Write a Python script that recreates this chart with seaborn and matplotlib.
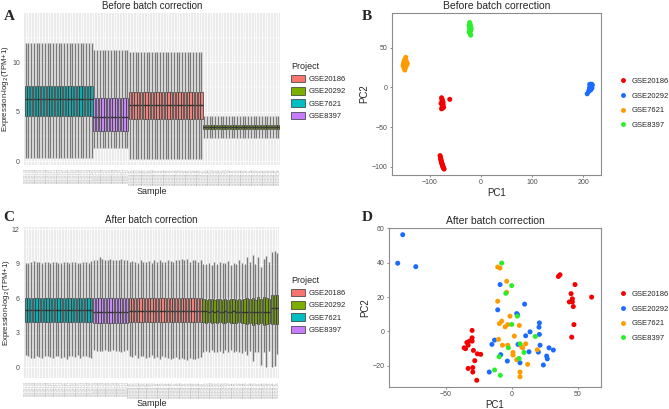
import numpy as np
import pandas as pd
import seaborn as sns
import matplotlib.pyplot as plt
from matplotlib.patches import Patch
from matplotlib.lines import Line2D

# ------------- Datos -------------
projects = ["GSE20186", "GSE20292", "GSE7621", "GSE8397"]
box_order = ["GSE7621", "GSE8397", "GSE20186", "GSE20292"]
n_samples = {"GSE7621": 25, "GSE8397": 13, "GSE20186": 27, "GSE20292": 28}

box_colors = {"GSE20186": "#F8766D", "GSE20292": "#7CAE00",
              "GSE7621": "#00BFC4", "GSE8397": "#C77CFF"}
pca_colors = {"GSE20186": "#F40000", "GSE20292": "#1A6BFF",
              "GSE7621": "#FF9B00", "GSE8397": "#2BEE2B"}

# A: lo, q1, mediana, q3, hi por proyecto
before_stats = {
    "GSE7621": [0.35, 4.6, 6.3, 7.6, 12.0],
    "GSE8397": [1.35, 3.0, 4.5, 6.35, 11.3],
    "GSE20186": [0.25, 4.25, 5.65, 7.0, 11.0],
    "GSE20292": [2.35, 3.2, 3.5, 3.7, 4.6],
}

# C: bigotes por muestra
after_hi = {
    "GSE7621": [9.05, 9.1, 9.2, 9.25, 9.2, 9.15, 9.1, 9.2, 9.15, 9.1, 9.2, 9.15, 9.1,
                9.05, 9.15, 9.2, 9.1, 9.15, 9.2, 9.1, 9.05, 9.15, 9.2, 9.1, 9.25],
    "GSE8397": [9.3, 9.35, 9.6, 9.45, 9.3, 9.35, 9.4, 9.3, 9.35, 9.3, 9.4, 9.3, 9.3],
    "GSE20186": [9.2, 9.25, 9.2, 9.1, 9.3, 9.15, 9.2, 9.25, 9.1, 9.3, 9.2, 9.35, 9.15, 9.2,
                 9.3, 9.25, 9.2, 9.35, 9.3, 9.4, 9.35, 9.4, 9.2, 9.3, 9.35, 9.2, 9.3],
    "GSE20292": [8.95, 9.0, 9.1, 8.9, 9.15, 9.0, 9.2, 9.1, 9.05, 9.25, 8.9, 9.1, 9.0, 9.35,
                 9.1, 8.95, 9.55, 9.15, 9.8, 9.0, 9.6, 8.7, 9.4, 9.7, 9.2, 10.0, 10.1, 9.9],
}
after_lo = {
    "GSE7621": [1.1, 1.0, 0.85, 0.8, 0.95, 0.9, 0.85, 0.95, 1.0, 0.9, 0.85, 1.0, 0.95,
                0.8, 0.9, 0.75, 0.95, 1.0, 0.9, 1.05, 0.85, 0.95, 1.0, 0.9, 0.85],
    "GSE8397": [1.5, 1.45, 1.4, 1.45, 1.5, 1.4, 1.45, 1.5, 1.4, 1.45, 1.35, 1.4, 1.5],
    "GSE20186": [1.0, 0.9, 1.1, 0.85, 0.95, 1.0, 0.8, 0.9, 1.05, 0.85, 0.9, 0.75, 1.0, 0.9,
                 0.85, 0.7, 0.8, 0.9, 0.75, 0.85, 0.7, 0.65, 0.8, 0.75, 0.7, 0.85, 0.9],
    "GSE20292": [1.3, 1.45, 1.3, 1.5, 1.35, 1.3, 1.45, 1.25, 1.5, 1.35, 1.55, 1.3, 1.45, 1.3,
                 1.25, 1.45, 1.1, 1.4, 0.55, 1.35, 1.3, 0.2, 1.35, 0.05, 1.45, 0.0, 0.1, 1.2],
}
after_box = {  # q1, mediana, q3 para los tres primeros proyectos
    "GSE7621": [3.95, 5.0, 6.0],
    "GSE8397": [3.85, 4.85, 6.0],
    "GSE20186": [3.95, 4.9, 6.0],
}
green_q1 = [3.95, 3.9, 3.95, 3.9, 3.95, 3.9, 3.95, 3.9, 3.9, 3.95, 3.9, 3.85, 3.9, 3.95,
            3.85, 3.9, 3.75, 3.85, 3.7, 3.85, 3.75, 3.9, 3.7, 3.8, 3.85, 3.8, 3.75, 3.8]
green_med = [4.9, 4.9, 4.85, 4.9, 4.85, 4.9, 4.85, 4.85, 4.9, 4.85, 4.85, 4.9, 4.85, 4.85,
             4.8, 4.85, 4.8, 4.85, 4.8, 4.8, 4.85, 4.8, 4.8, 4.85, 4.8, 5.2, 5.2, 5.2]
green_q3 = [5.95, 5.9, 5.95, 5.95, 5.9, 5.95, 5.95, 5.9, 5.95, 5.9, 5.95, 5.95, 5.9, 5.95,
            5.9, 5.95, 6.0, 5.95, 6.05, 5.9, 6.1, 5.95, 6.1, 6.0, 5.95, 6.3, 6.3, 6.25]

# B: PCA antes
pcaB = {
    "GSE20186": ([-77, -76, -75, -78, -74, -76, -73, -75, -77, -74, -76, -61,
                  -80, -79, -79, -78, -78, -77, -77, -76, -76, -75, -75, -74, -74, -73, -72],
                 [-13, -16, -18, -20, -22, -24, -25, -26, -27, -19, -15, -15,
                  -86, -88, -90, -91, -93, -94, -95, -96, -97, -98, -99, -100, -101, -102, -103]),
    "GSE20292": ([213, 214, 215, 216, 217, 218, 214, 215, 216, 217, 213, 214, 215, 216,
                  212, 213, 214, 215, 216, 217, 211, 212, 213, 214, 215, 216, 217, 208],
                 [4, 3, 2, 1, 0, 3, -1, -2, 2, 4, 0, 1, -3, 0,
                  -4, -2, 3, 2, 1, -1, -5, -3, -1, 0, 4, 2, 3, -8]),
    "GSE7621": ([-152, -151, -150, -149, -148, -147, -146, -145, -150, -149, -148, -147, -151,
                 -150, -149, -148, -146, -144, -150, -152, -148, -147, -149, -151, -146],
                [28, 30, 32, 26, 29, 31, 33, 30, 24, 27, 35, 38, 31,
                 29, 22, 25, 28, 30, 34, 27, 36, 26, 33, 30, 29]),
    "GSE8397": ([-22, -21, -23, -20, -22, -21, -19, -22, -20, -23, -21, -20, -22],
                [82, 80, 78, 77, 76, 75, 74, 73, 72, 70, 68, 66, 79]),
}

# D: PCA despues
pcaD = {
    "GSE20186": ([-30, -34, -36, -35, -32, -30, -30, -33, -29, -26, -23.5, -28, -33, -29.5,
                  -29.5, -26.5, 35.4, 36.6, 48, 45, 46, 43.7, 46, 46.7, 47.2, 45.5, 60.6],
                 [0.6, -6.4, -9.5, -10, -5.6, -3.7, -5.6, -8, -11, -13, -13.3, -17, -21.5, -21,
                  -23.6, -28.4, 32, 33, 27.3, 22, 19, 17.2, 17.2, 14.5, 4, -3.3, 20]),
    "GSE20292": ([-82.6, -86.4, -72.7, -8.8, 9.8, -10.6, 3.8, 4.5, 21, 20.7, 13.9, 10.6, 21, -13,
                  -15, 4.8, 21.5, 28.3, 31.6, 13.1, 20.2, 26.5, 27, -8.3, -3.3, 6.3, 24, -17],
                 [56.3, 39.7, 37.7, 27.3, 15.9, 12.6, 10.4, 9.7, 5, 2.5, -0.2, -2.5, -1.7, -5,
                  -7.5, -7.5, -8, -9.5, -10.8, -11.8, -12, -14.3, -15.9, -13.5, -17.2, -18.2, -19.5, -23.6]),
    "GSE7621": ([-10.6, -8.8, -3.8, -3.8, -10.6, -1.3, -7.6, -9.3, -5, -3, 5.8, -10, -7, -3,
                 2, 10.6, 7.6, 1, 1, 3.8, 19.4, 12.1, 6.3, 6.3, 8.3],
                [37.5, 36.9, 29.2, 22.8, 17.6, 8.9, 6, 4.6, 2.7, 4, 3.5, -4.6, -8, -8,
                 -2.7, -7.2, -9, -12.2, -13.7, -16.4, -10.6, -19.1, -23.6, -26.3, -9.5]),
    "GSE8397": ([-7.6, 0, -4.5, 4.3, 0, -2.5, 6.3, 9.3, 17.9, -9.6, 5.6, -13, -8.6],
                [39.8, 26.7, 22.2, 8.9, 4.1, -9.5, -7.2, -12.2, -2.9, -14.7, -15.7, -22.4, -25.5]),
}

# ------------- Tablas largas -------------
rows_a, rows_c, sample_names = [], [], []
for p in box_order:
    for i in range(n_samples[p]):
        name = f"{p}_{i + 1:02d}"
        sample_names.append(name)
        for v in before_stats[p]:
            rows_a.append((name, p, v))
        if p == "GSE20292":
            vals = [after_lo[p][i], green_q1[i], green_med[i], green_q3[i], after_hi[p][i]]
        else:
            vals = [after_lo[p][i]] + after_box[p] + [after_hi[p][i]]
        for v in vals:
            rows_c.append((name, p, v))
df_a = pd.DataFrame(rows_a, columns=["Sample", "Project", "Expr"])
df_c = pd.DataFrame(rows_c, columns=["Sample", "Project", "Expr"])


def pca_frame(d):
    rows = []
    for p in projects:
        for x, y in zip(*d[p]):
            rows.append((p, x, y))
    return pd.DataFrame(rows, columns=["Project", "PC1", "PC2"])


df_b = pca_frame(pcaB)
df_d = pca_frame(pcaD)

# ------------- Figura -------------
sns.set_style("white")
plt.rcParams["font.family"] = ["Liberation Sans", "DejaVu Sans"]
W, H = 669, 409
fig = plt.figure(figsize=(W / 100, H / 100), dpi=100)


def px_axes(l, t, r, b):
    return fig.add_axes([l / W, 1 - b / H, (r - l) / W, (b - t) / H])


def draw_box(ax, df, title, yticks, yminor, ylim, xlab_y, ylab_x):
    ax.set_facecolor("#EBEBEB")
    sns.boxplot(data=df, x="Sample", y="Expr", hue="Project", order=sample_names,
                hue_order=projects, palette=box_colors, whis=(0, 100), width=0.8,
                linewidth=0.5, linecolor="#333333", showcaps=False, dodge=False,
                whiskerprops={"color": "#7A7A7A", "linewidth": 1.0},
                medianprops={"color": "#333333", "linewidth": 1.0},
                legend=False, ax=ax)
    ax.set_axisbelow(True)
    ax.set_yticks(yticks)
    ax.set_yticks(yminor, minor=True)
    ax.grid(True, which="major", color="white", linewidth=0.6)
    ax.grid(True, which="minor", axis="y", color="white", linewidth=0.3)
    ax.set_ylim(*ylim)
    ax.set_xlim(-0.6, len(sample_names) - 0.4)
    for s in ax.spines.values():
        s.set_visible(False)
    ax.tick_params(axis="x", labelrotation=90, labelsize=1.8, labelcolor="#9A9A9A",
                   length=1.5, width=0.4, color="#333333", pad=1)
    ax.tick_params(axis="y", labelsize=5, labelcolor="#4D4D4D", length=1.5,
                   width=0.4, color="#333333", pad=1.5)
    ax.tick_params(which="minor", length=0)
    ax.set_xlabel("Sample", fontsize=6.5)
    ax.set_ylabel("Expression-log$_2$(TPM+1)", fontsize=5.6)
    ax.xaxis.set_label_coords(0.5, xlab_y)
    ax.yaxis.set_label_coords(ylab_x, 0.5)
    ax.set_title(title, fontsize=7, pad=3)


def draw_pca(ax, df, title, xticks, yticks, xlim, ylim):
    sns.scatterplot(data=df, x="PC1", y="PC2", hue="Project", hue_order=projects,
                    palette=pca_colors, s=13, linewidth=0, legend=False, ax=ax)
    ax.set_xticks(xticks)
    ax.set_yticks(yticks)
    ax.set_xlim(*xlim)
    ax.set_ylim(*ylim)
    for s in ax.spines.values():
        s.set_color("#8C8C8C")
        s.set_linewidth(0.8)
    ax.tick_params(labelsize=5, labelcolor="#4D4D4D", length=1.5, width=0.4,
                   color="#333333", pad=1.5, left=True, bottom=True)
    ax.set_xlabel("PC1", fontsize=7, labelpad=1)
    ax.set_ylabel("PC2", fontsize=7, labelpad=2)
    ax.set_title(title, fontsize=7.5, pad=3)


axA = px_axes(24, 13, 280, 165)
draw_box(axA, df_a, "Before batch correction", [0, 5, 10], [2.5, 7.5, 12.5], (-0.4, 15.0),
         -0.145, -0.049)
axC = px_axes(24, 227, 279, 378)
draw_box(axC, df_c, "After batch correction", [0, 3, 6, 9, 12],
         [1.5, 4.5, 7.5, 10.5], (-0.92, 12.2), -0.14, -0.049)

axB = px_axes(392, 13, 601, 175)
draw_pca(axB, df_b, "Before batch correction", [-100, 0, 100, 200], [-100, -50, 0, 50],
         (-174, 235), (-110.5, 94))
axD = px_axes(389, 228, 601, 387)
draw_pca(axD, df_d, "After batch correction", [-50, 0, 50], [-20, 0, 20, 40, 60],
         (-93, 67.7), (-32.3, 60.2))

# Leyendas
box_handles = [Patch(facecolor=box_colors[p], edgecolor="#333333", linewidth=0.5)
               for p in projects]
for top in (58, 272):
    fig.legend(box_handles, projects, title="Project", loc="upper left",
               bbox_to_anchor=(287 / W, 1 - top / H), frameon=False, fontsize=5.5,
               title_fontsize=6.5, handlelength=1.8, handleheight=1.2,
               labelspacing=0.5, handletextpad=0.5, alignment="left", borderpad=0)

dot_handles = [Line2D([], [], marker="o", linestyle="", markersize=3.5,
                      markerfacecolor=pca_colors[p], markeredgewidth=0) for p in projects]
for top in (74, 287):
    fig.legend(dot_handles, projects, loc="upper left", bbox_to_anchor=(615 / W, 1 - top / H),
               frameon=False, fontsize=5.5, labelspacing=0.95, handlelength=1.0,
               handletextpad=0.7, borderpad=0)

# Letras de panel
for letter, x, y in (("A", 4, 20), ("B", 362, 20), ("C", 3, 221), ("D", 362, 221)):
    fig.text(x / W, 1 - y / H, letter, fontsize=11, fontweight="bold",
             family="Liberation Serif")

fig.savefig("out.png", dpi=100)
